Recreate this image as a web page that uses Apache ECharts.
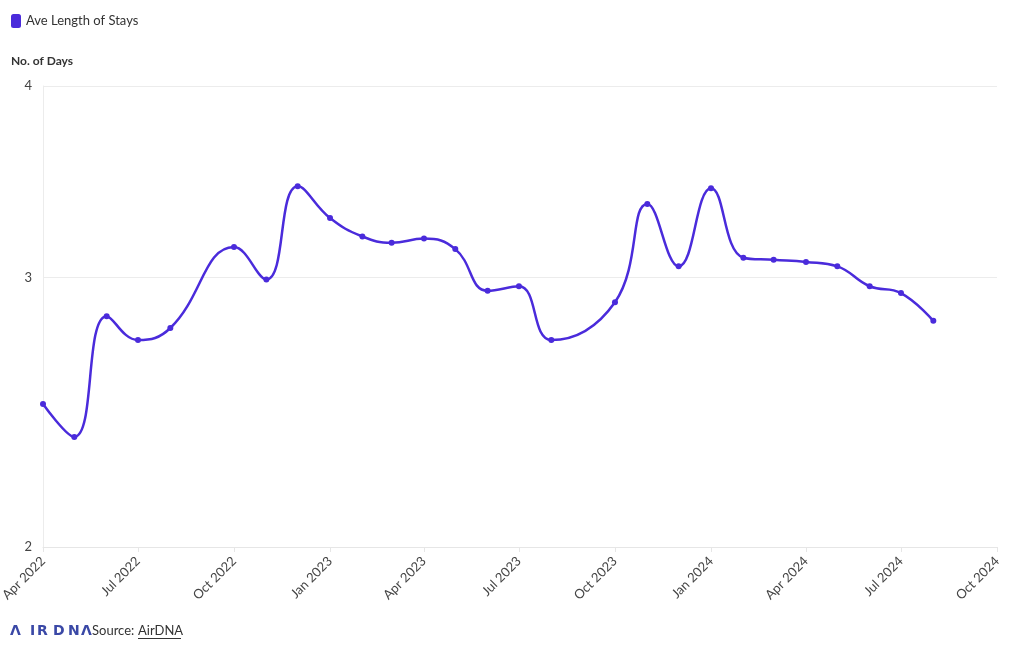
<!DOCTYPE html>
<html>
<head>
<meta charset="utf-8">
<script src="https://cdn.jsdelivr.net/npm/echarts@6/dist/echarts.min.js"></script>
<style>html,body{margin:0;padding:0;background:#fff}#c{width:1020px;height:650px}</style>
</head>
<body>
<div id="c"></div>
<script>
const months = ['2022-04-01','2022-05-01','2022-06-01','2022-07-01','2022-08-01','2022-10-01','2022-11-01','2022-12-01',
  '2023-01-01','2023-02-01','2023-03-01','2023-04-01','2023-05-01','2023-06-01','2023-07-01','2023-08-01','2023-10-01','2023-11-01','2023-12-01',
  '2024-01-01','2024-02-01','2024-03-01','2024-04-01','2024-05-01','2024-06-01','2024-07-01','2024-08-01'];
const stayValues = [2.48,2.36,2.83,2.73,2.78,3.14,2.99,3.44,
  3.28,3.19,3.16,3.18,3.13,2.94,2.96,2.73,2.89,3.35,3.05,
  3.43,3.09,3.08,3.07,3.05,2.96,2.93,2.81];
const yTicks = [2,3,4];
const monthNames = ['Jan','Feb','Mar','Apr','May','Jun','Jul','Aug','Sep','Oct','Nov','Dec'];

const ts = s => { const p = s.split('-'); return Date.UTC(+p[0], +p[1]-1, +p[2]); };
const FONT = 'Lato, "Noto Sans", sans-serif';
const chart = echarts.init(document.getElementById('c'), null, {renderer:'canvas', useUTC:true});
const Q = 3*30.4*86400000;
const logoLetters = [['Λ',10],['I',30],['R',37],['D',53],['N',68],['Λ',81]];
const logo = logoLetters.map(([ch,x]) => ({type:'text', left:x, top:624, style:{text:ch, font:'bold 14px "DejaVu Sans", sans-serif', fill:'#3a48a6'}}));
chart.setOption({
  animation:false,
  useUTC:true,
  textStyle:{fontFamily:FONT},
  legend:{
    left:6, top:9, icon:'roundRect', itemWidth:10, itemHeight:14, itemGap:10,
    textStyle:{fontFamily:FONT, fontSize:13, color:'#333'},
    data:['Ave Length of Stays']
  },
  graphic:logo.concat([
    {type:'text', left:11, top:55, style:{text:'No. of Days', font:'bold 12px '+FONT, fill:'#333'}},
    {type:'text', left:92, top:624, style:{text:'Source: ', font:'13px '+FONT, fill:'#333'}},
    {type:'text', left:138, top:624, style:{text:'AirDNA', font:'13px '+FONT, fill:'#333'}},
    {type:'line', shape:{x1:138, y1:638.5, x2:181, y2:638.5}, style:{stroke:'#333', lineWidth:1}}
  ]),
  grid:{left:43, right:23, top:86, bottom:103, containLabel:false, outerBoundsMode:'none'},
  xAxis:{
    type:'time',
    min:ts('2022-04-01'), max:ts('2024-10-01'),
    minInterval:Q*0.95, maxInterval:Q*1.05, splitNumber:10,
    axisLine:{show:true, lineStyle:{color:'#e6e6e6'}},
    axisTick:{show:true, length:5, lineStyle:{color:'#e6e6e6'}},
    splitLine:{show:false},
    axisLabel:{
      rotate:45, color:'#444', fontSize:13, fontFamily:FONT, margin:12, hideOverlap:false,
      formatter:v => { const d = new Date(v); return monthNames[d.getUTCMonth()]+' '+d.getUTCFullYear(); }
    }
  },
  yAxis:{
    type:'log', logBase:10, min:2, max:4,
    axisLine:{show:true, lineStyle:{color:'#ececec'}},
    axisTick:{show:false, customValues:yTicks},
    splitLine:{show:true, lineStyle:{color:'#ececec'}},
    axisLabel:{customValues:yTicks, color:'#444', fontSize:13, fontFamily:FONT, margin:11}
  },
  series:[{
    name:'Ave Length of Stays', type:'line', smooth:0.45,
    data:months.map((m,i)=>[ts(m), stayValues[i]]),
    symbol:'circle', symbolSize:6,
    lineStyle:{width:2.5, color:'#4a2bdb'},
    itemStyle:{color:'#4a2bdb'}
  }]
});
</script>
</body>
</html>
